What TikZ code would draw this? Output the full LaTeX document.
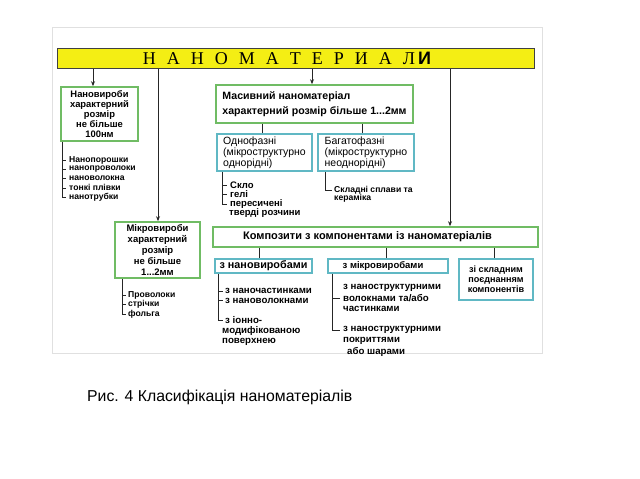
\documentclass[tikz,border=0pt]{standalone}
\usepackage{fontspec}
\setmainfont{Liberation Sans}
\newfontfamily\serifcyr{Liberation Serif}
\newfontfamily\sanscyr{Liberation Sans}
\usetikzlibrary{arrows.meta}
\definecolor{bargold}{RGB}{244,238,20}
\definecolor{boxgreen}{RGB}{112,188,100}
\definecolor{boxteal}{RGB}{96,184,196}
\begin{document}
\begin{tikzpicture}[x=1pt,y=-1pt,
  conn/.style={draw=black!85,line width=0.8pt},
  arr/.style={conn,-{Stealth[length=5pt,width=4pt]}},
  titlebar/.style={draw=black!75,line width=1pt,fill=bargold,inner sep=0pt},
  gbox/.style={preaction={draw=black!70,line width=2.4pt},draw=boxgreen,line width=1.6pt,fill=white,inner sep=0pt,align=center},
  tbox/.style={preaction={draw=black!70,line width=2.4pt},draw=boxteal,line width=1.6pt,fill=white,inner sep=0pt,align=center},
  item/.style={anchor=west,inner sep=0pt,font=\bfseries\fontsize{8.6}{9}\selectfont},
  mitem/.style={anchor=west,inner sep=0pt,font=\bfseries\fontsize{9.5}{10}\selectfont},
  citem/.style={anchor=west,inner sep=0pt,font=\bfseries\fontsize{9.7}{10}\selectfont},
]
\useasboundingbox (0,0) rectangle (640,479);
\draw[black!12,line width=0.8pt] (52,27) rectangle (542,353);

% title bar
\node[titlebar,minimum width=477pt,minimum height=20pt] (bar) at (295.5,58) {};
\node[inner sep=0pt,font=\serifcyr\fontsize{18}{18}\selectfont] (bartext) at (287,58.5)
 {Н\hspace{11pt}А\hspace{11pt}Н\hspace{11pt}О\hspace{11pt}М\hspace{11pt}А\hspace{11pt}Т\hspace{11pt}Е\hspace{11pt}Р\hspace{11pt}И\hspace{11pt}А\hspace{11pt}Л\hspace{3pt}{\sanscyr\bfseries И}};

% main boxes
\node[gbox,minimum width=77pt,minimum height=54pt,font=\bfseries\fontsize{9.4}{10.2}\selectfont] (nano) at (99.5,114)
 {Нановироби\\характерний\\розмір\\не більше\\100нм};
\node[gbox,minimum width=85pt,minimum height=56pt,font=\bfseries\fontsize{9.5}{11}\selectfont] (micro) at (157.5,250)
 {Мікровироби\\характерний\\розмір\\не більше\\1...2мм};
\node[gbox,minimum width=197pt,minimum height=38pt,align=left,font=\bfseries\fontsize{10.6}{15}\selectfont] (mas) at (314.5,104)
 {Масивний наноматеріал\\характерний розмір більше 1...2мм};
\node[tbox,minimum width=95pt,minimum height=37pt,align=left,font=\fontsize{10.5}{11}\selectfont] (odno) at (264.5,152.5)
 {Однофазні\\(мікроструктурно\\однорідні)};
\node[tbox,minimum width=96pt,minimum height=37pt,align=left,font=\fontsize{10.5}{11}\selectfont] (baga) at (366,152.5)
 {Багатофазні\\(мікроструктурно\\неоднорідні)};
\node[gbox,minimum width=325pt,minimum height=20pt,font=\bfseries\fontsize{11}{12}\selectfont] (komp) at (375.5,237)
 {Композити з компонентами із наноматеріалів\hspace*{16pt}};
\node[tbox,minimum width=97pt,minimum height=14pt,font=\bfseries\fontsize{10.8}{11}\selectfont] (znano) at (263.5,266)
 {з нановиробами};
\node[tbox,minimum width=120pt,minimum height=14pt,font=\bfseries\fontsize{9.5}{11}\selectfont] (zmikro) at (388,266)
 {з мікровиробами\hspace*{10pt}};
\node[tbox,minimum width=74pt,minimum height=41pt,font=\bfseries\fontsize{9.1}{10}\selectfont] (zskl) at (496,279.5)
 {зі складним\\поєднанням\\компонентів};

% connectors from title bar
\coordinate (c1) at (93,0);
\coordinate (c2) at (158,0);
\coordinate (c3) at (312,0);
\coordinate (c4) at (450,0);
\draw[arr] (bar.south -| c1) -- (nano.north -| c1);
\draw[arr] (bar.south -| c2) -- (micro.north -| c2);
\draw[arr] (bar.south -| c3) -- (mas.north -| c3);
\draw[arr] (bar.south -| c4) -- (komp.north -| c4);

% connectors from Масивний
\coordinate (c5) at (262,0);
\coordinate (c6) at (362,0);
\draw[conn] (mas.south -| c5) -- (odno.north -| c5);
\draw[conn] (mas.south -| c6) -- (baga.north -| c6);

% connectors from Композити
\coordinate (c7) at (259,0);
\coordinate (c8) at (386,0);
\coordinate (c9) at (494,0);
\draw[conn] (komp.south -| c7) -- (znano.north -| c7);
\draw[conn] (komp.south -| c8) -- (zmikro.north -| c8);
\draw[conn] (komp.south -| c9) -- (zskl.north -| c9);

% list under Нановироби
\node[item] (n1) at (69,160) {Нанопорошки};
\node[item] (n2) at (69,169.3) {нанопроволоки};
\node[item] (n3) at (69,178.6) {нановолокна};
\node[item] (n4) at (69,187.9) {тонкі плівки};
\node[item] (n5) at (69,197.2) {нанотрубки};
\coordinate (v1) at (62,0);
\draw[conn] (nano.south -| v1) |- ([xshift=-3pt]n5.west);
\foreach \n in {n1,n2,n3,n4} \draw[conn] (\n.west -| v1) -- ([xshift=-3pt]\n.west);

% list under Мікровироби
\node[item] (m1) at (128,295) {Проволоки};
\node[item] (m2) at (128,304.5) {стрічки};
\node[item] (m3) at (128,314) {фольга};
\coordinate (v2) at (122,0);
\draw[conn] (micro.south -| v2) |- ([xshift=-2pt]m3.west);
\foreach \n in {m1,m2} \draw[conn] (\n.west -| v2) -- ([xshift=-2pt]\n.west);

% list under Однофазні
\node[mitem] (o1) at (230,185) {Скло};
\node[mitem] (o2) at (230,194.5) {гелі};
\node[mitem] (o3) at (230,204) {пересичені};
\node[mitem] (o4) at (229,213) {тверді розчини};
\coordinate (v3) at (222,0);
\draw[conn] (odno.south -| v3) |- ([xshift=-3pt]o3.west);
\foreach \n in {o1,o2} \draw[conn] (\n.west -| v3) -- ([xshift=-3pt]\n.west);

% list under Багатофазні
\node[item] (b1) at (334,190) {Складні сплави та};
\node[item] (b2) at (334,198.5) {кераміка};
\coordinate (v4) at (325,0);
\draw[conn] (baga.south -| v4) |- ([xshift=-2pt]b1.west);

% list under з нановиробами
\node[citem] (zn1) at (225,291) {з наночастинками};
\node[citem] (zn2) at (225,300.5) {з нановолокнами};
\node[citem] (zn3) at (225,320) {з іонно-};
\node[citem] (zn4) at (222,331) {модифікованою};
\node[citem] (zn5) at (222,342) {поверхнею};
\coordinate (v5) at (218,0);
\draw[conn] (znano.south -| v5) |- ([xshift=-2pt]zn3.west);
\foreach \n in {zn1,zn2} \draw[conn] (\n.west -| v5) -- ([xshift=-2pt]\n.west);

% list under з мікровиробами
\node[citem] (zm1) at (343,288) {з наноструктурними};
\node[citem] (zm2) at (343,298.5) {волокнами та/або};
\node[citem] (zm3) at (343,309) {частинками};
\node[citem] (zm4) at (343,330) {з наноструктурними};
\node[citem] (zm5) at (343,341) {покриттями};
\node[citem] (zm6) at (347,352) {або шарами};
\coordinate (v6) at (332,0);
\draw[conn] (zmikro.south -| v6) |- ([xshift=-3pt]zm4.west);
\draw[conn] (zm2.west -| v6) -- ([xshift=-3pt]zm2.west);

% caption
\node[anchor=west,inner sep=0pt,font=\fontsize{15.8}{18}\selectfont] (cap) at (87,397.5) {Рис. 4 Класифікація наноматеріалів};
\end{tikzpicture}
\end{document}
